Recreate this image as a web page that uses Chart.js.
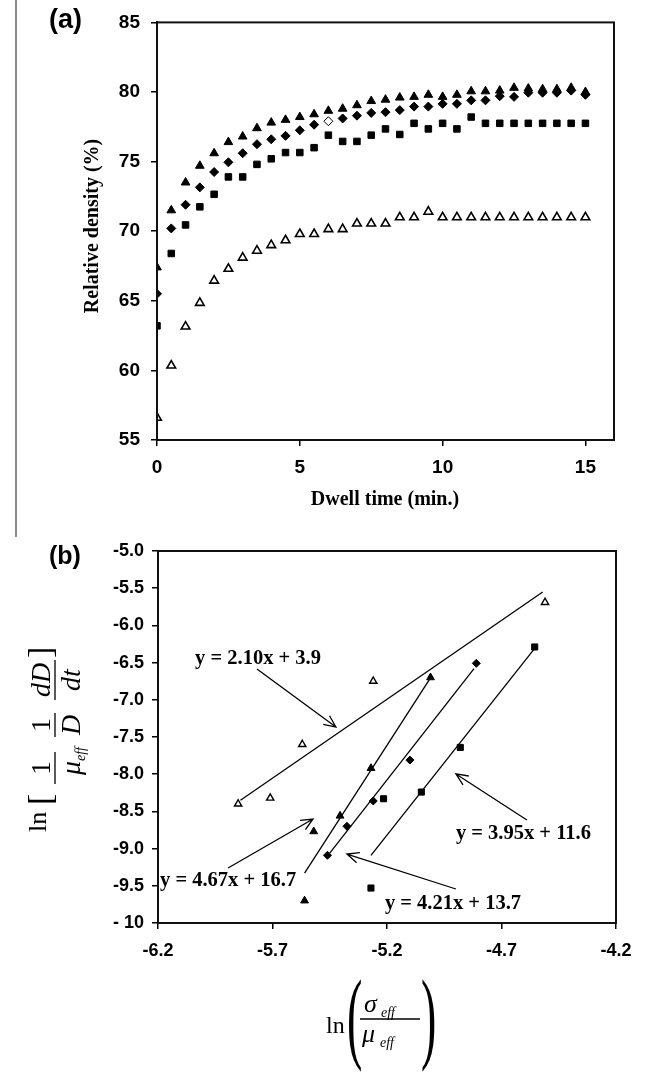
<!DOCTYPE html>
<html>
<head>
<meta charset="utf-8">
<script src="https://cdn.jsdelivr.net/npm/chart.js@4.4.0/dist/chart.umd.min.js"></script>
<style>
  body { margin: 0; background: #fff; }
  #wrap { position: relative; width: 654px; height: 1076px; overflow: hidden; }
  #ca { position: absolute; left: 0; top: 0; }
  #cb { position: absolute; left: 0; top: 520px; }
  #rule { position: absolute; left: 15px; top: 0; width: 2px; height: 537px; background: #8c8c8c; }
</style>
</head>
<body>
<div id="wrap">
  <div id="rule"></div>
  <canvas id="ca" width="654" height="520"></canvas>
  <canvas id="cb" width="654" height="556"></canvas>
</div>
<script>
// ---- panel (a): relative density vs dwell time ----
var dwellTime = [0, 0.5, 1, 1.5, 2, 2.5, 3, 3.5, 4, 4.5, 5, 5.5, 6, 6.5, 7, 7.5,
  8, 8.5, 9, 9.5, 10, 10.5, 11, 11.5, 12, 12.5, 13, 13.5, 14, 14.5, 15];
var densTriFilled = [67.4, 71.5, 73.5, 74.7, 75.6, 76.4, 76.8, 77.4, 77.8, 78.0, 78.2, 78.4, 78.65, 78.8, 79.05, 79.35,
  79.45, 79.6, 79.65, 79.8, 79.65, 79.8, 80.05, 80.05, 80.1, 80.3, 80.25, 80.2, 80.2, 80.3, 80.0];
var densDiamond = [65.5, 70.2, 71.9, 73.15, 74.25, 74.95, 75.6, 76.25, 76.6, 76.85, 77.25, 77.65, 77.9, 78.1, 78.3, 78.5,
  78.55, 78.7, 78.95, 78.95, 79.15, 79.15, 79.4, 79.4, 79.7, 79.65, 79.95, 79.95, 79.95, 80.1, 79.8];
var densSquare = [63.2, 68.4, 70.45, 71.75, 72.65, 73.9, 73.9, 74.8, 75.2, 75.65, 75.65, 76.0, 76.9, 76.45, 76.45, 76.9,
  77.35, 76.95, 77.75, 77.35, 77.75, 77.35, 78.2, 77.75, 77.75, 77.75, 77.75, 77.75, 77.75, 77.75, 77.75];
var densTriOpen = [56.6, 60.35, 63.15, 64.85, 66.45, 67.3, 68.1, 68.6, 69.0, 69.35, 69.8, 69.8, 70.15, 70.15, 70.55, 70.55,
  70.55, 71.0, 71.0, 71.4, 71.0, 71.0, 71.0, 71.0, 71.0, 71.0, 71.0, 71.0, 71.0, 71.0, 71.0];
var densTicksX = [0, 5, 10, 15];

// ---- panel (b): ln rate vs ln(sigma/mu) ----
var lnStressOpenTri = [-5.85, -5.71, -5.57, -5.26, -4.51];
var lnRateOpenTri = [-8.40, -8.32, -7.60, -6.75, -5.69];
var lnStressTri = [-5.56, -5.52, -5.405, -5.27, -5.01];
var lnRateTri = [-9.70, -8.77, -8.56, -7.92, -6.70];
var lnStressDia = [-5.46, -5.375, -5.26, -5.10, -4.81];
var lnRateDia = [-9.09, -8.70, -8.36, -7.81, -6.51];
var lnStressSq = [-5.27, -5.215, -5.05, -4.88, -4.555];
var lnRateSq = [-9.53, -8.33, -8.24, -7.64, -6.29];

// fitted lines, end points
var fitOpenTriX = [-5.84, -4.52], fitOpenTriY = [-8.35, -5.55];
var fitTriX = [-5.56, -5.015], fitTriY = [-9.33, -6.73];
var fitDiaX = [-5.45, -4.82], fitDiaY = [-9.06, -6.58];
var fitSqX = [-5.27, -4.555], fitSqY = [-9.09, -6.31];

var fitLabels = ["y = 2.10x + 3.9", "y = 4.67x + 16.7", "y = 3.95x + 11.6", "y = 4.21x + 13.7"];

function pts(xs, ys) {
  return xs.map(function (x, i) { return { x: x, y: ys[i] }; });
}

var BLACK = "#000";
var tickFontA = { family: "'Liberation Sans', Arial, sans-serif", size: 19, weight: "bold" };
var tickFontB = { family: "'Liberation Sans', Arial, sans-serif", size: 18, weight: "bold" };
var serif = "'Liberation Serif', 'Times New Roman', serif";

function axisCommon(font, pad) {
  return {
    type: "linear",
    grid: { drawOnChartArea: false, color: BLACK, tickLength: 6, lineWidth: 1.5 },
    border: { color: BLACK, width: 2 },
    ticks: { color: BLACK, font: font, padding: pad, includeBounds: false }
  };
}

const frame = {
  id: "frame",
  afterDatasetsDraw(chart) {
    const a = chart.chartArea, c = chart.ctx;
    c.save();
    c.strokeStyle = "#111";
    c.lineWidth = 2;
    c.strokeRect(a.left, a.top, a.right - a.left, a.bottom - a.top);
    c.restore();
  }
};

// ---------- chart (a) ----------
const titlesA = {
  id: "titlesA",
  afterDraw(chart) {
    const c = chart.ctx;
    c.save();
    c.fillStyle = BLACK;
    c.font = "bold 27px 'Liberation Sans', Arial, sans-serif";
    c.textAlign = "left";
    c.textBaseline = "alphabetic";
    c.fillText("(a)", 49, 28);

    c.font = "bold 20px " + serif;
    c.textAlign = "center";
    c.fillText("Dwell time (min.)", 385, 505);

    c.translate(98, 226);
    c.rotate(-Math.PI / 2);
    c.fillText("Relative density (%)", 0, 0);
    c.restore();
  }
};

var xA = axisCommon(tickFontA, 10);
xA.min = 0; xA.max = 16;
xA.afterBuildTicks = function (s) { s.ticks = densTicksX.map(function (v) { return { value: v }; }); };
xA.afterFit = function (s) { s.height = 80; };
var yA = axisCommon(tickFontA, 11);
yA.min = 55; yA.max = 85; yA.ticks.stepSize = 5;
yA.afterFit = function (s) { s.width = 157; };

new Chart(document.getElementById("ca"), {
  type: "scatter",
  data: {
    datasets: [
      { label: "filled triangle", data: pts(dwellTime, densTriFilled), pointStyle: "triangle",
        pointRadius: 5, backgroundColor: BLACK, borderColor: BLACK, borderWidth: 1 },
      { label: "diamond", data: pts(dwellTime, densDiamond), pointStyle: "rectRot",
        pointRadius: 4.5, borderColor: BLACK, borderWidth: 1,
        backgroundColor: function (ctx) { return ctx.dataIndex === 12 ? "#fff" : BLACK; } },
      { label: "square", data: pts(dwellTime, densSquare), pointStyle: "rect",
        pointRadius: 4.6, backgroundColor: BLACK, borderColor: BLACK, borderWidth: 1 },
      { label: "open triangle", data: pts(dwellTime, densTriOpen), pointStyle: "triangle",
        pointRadius: 5, backgroundColor: "#fff", borderColor: BLACK, borderWidth: 1.6 }
    ]
  },
  options: {
    responsive: false,
    animation: false,
    layout: { padding: { top: 13, right: 40, left: 0, bottom: 0 } },
    plugins: { legend: { display: false }, tooltip: { enabled: false } },
    scales: { x: xA, y: yA }
  },
  plugins: [frame, titlesA]
});

// ---------- chart (b) ----------
// annotation boxes in data units: label anchor and arrow from / to
var fitNotes = [
  { text: fitLabels[0], at: [-6.038, -6.452], from: [-5.768, -6.586], to: [-5.423, -7.366] },
  { text: fitLabels[1], at: [-6.191, -9.435], from: [-5.894, -9.261], to: [-5.523, -8.602] },
  { text: fitLabels[2], at: [-4.899, -8.804], from: [-4.589, -8.616], to: [-4.899, -7.997] },
  { text: fitLabels[3], at: [-5.209, -9.745], from: [-4.899, -9.543], to: [-5.375, -9.073] }
];

function arrow(c, x0, y0, x1, y1) {
  var ang = Math.atan2(y1 - y0, x1 - x0), len = 13, spread = 0.42;
  c.beginPath();
  c.moveTo(x0, y0);
  c.lineTo(x1, y1);
  c.moveTo(x1 - len * Math.cos(ang - spread), y1 - len * Math.sin(ang - spread));
  c.lineTo(x1, y1);
  c.lineTo(x1 - len * Math.cos(ang + spread), y1 - len * Math.sin(ang + spread));
  c.stroke();
}

function fracH(c, num, den, u, bar, font, numFont) {
  // horizontal fraction centred on u, bar half-length `bar`
  c.font = numFont || font;
  c.textAlign = "center";
  c.fillText(num, u, -5);
  c.font = font;
  c.fillText(den, u, 25);
  c.beginPath();
  c.moveTo(u - bar, 0);
  c.lineTo(u + bar, 0);
  c.stroke();
}

function tallParen(c, ch, x, y) {
  c.save();
  c.font = "46px " + serif;
  c.translate(x, y);
  c.scale(1, 2.2);
  c.fillText(ch, 0, 0);
  c.restore();
}

const notesB = {
  id: "notesB",
  afterDraw(chart) {
    const c = chart.ctx, xs = chart.scales.x, ys = chart.scales.y;
    c.save();
    c.fillStyle = BLACK;
    c.strokeStyle = BLACK;
    c.lineWidth = 1.3;
    c.font = "bold 20.5px " + serif;
    c.textBaseline = "middle";
    c.textAlign = "left";
    fitNotes.forEach(function (n) {
      c.fillText(n.text, xs.getPixelForValue(n.at[0]), ys.getPixelForValue(n.at[1]));
      arrow(c, xs.getPixelForValue(n.from[0]), ys.getPixelForValue(n.from[1]),
        xs.getPixelForValue(n.to[0]), ys.getPixelForValue(n.to[1]));
    });

    // panel tag
    c.textBaseline = "alphabetic";
    c.font = "bold 25px 'Liberation Sans', Arial, sans-serif";
    c.fillText("(b)", 49, 44);

    // x axis title: ln( sigma_eff / mu_eff )
    c.font = "24px " + serif;
    c.fillText("ln", 326, 513);
    tallParen(c, "(", 347, 530);
    tallParen(c, ")", 421, 530);
    c.font = "italic 26px " + serif;
    c.fillText("\u03c3", 364, 492);
    c.fillText("\u03bc", 362, 522);
    c.font = "italic 14px " + serif;
    c.fillText("eff", 381, 497);
    c.fillText("eff", 380, 527);
    c.beginPath();
    c.moveTo(360, 499);
    c.lineTo(420, 499);
    c.stroke();

    // y axis title, rotated: ln [ 1/mu_eff  1/D  dD/dt ]
    c.translate(55, 312);
    c.rotate(-Math.PI / 2);
    c.textAlign = "left";
    c.font = "26px " + serif;
    c.fillText("ln", 0, -9);
    c.font = "34px " + serif;
    c.fillText("[", 27, -4);
    c.fillText("]", 174, -4);
    fracH(c, "1", "\u03bc", 64, 16, "italic 28px " + serif, "28px " + serif);
    c.font = "italic 14px " + serif;
    c.textAlign = "left";
    c.fillText("eff", 71, 30);
    fracH(c, "1", "D", 107, 12, "italic 28px " + serif, "28px " + serif);
    fracH(c, "dD", "dt", 152, 20, "italic 28px " + serif);
    c.restore();
  }
};

var xB = axisCommon(tickFontB, 11);
xB.min = -6.2; xB.max = -4.2; xB.ticks.stepSize = 0.5;
xB.ticks.callback = function (v) { return v.toFixed(1); };
xB.afterFit = function (s) { s.height = 153; };
var yB = axisCommon(tickFontB, 8);
yB.min = -10; yB.max = -5; yB.ticks.stepSize = 0.5;
yB.ticks.callback = function (v) { return v <= -9.99 ? "- 10" : v.toFixed(1); };
yB.afterFit = function (s) { s.width = 158; };

function fitLine(xs, ys) {
  return { data: pts(xs, ys), showLine: true, pointRadius: 0, borderColor: BLACK, borderWidth: 1.3 };
}

new Chart(document.getElementById("cb"), {
  type: "scatter",
  data: {
    datasets: [
      fitLine(fitOpenTriX, fitOpenTriY),
      fitLine(fitTriX, fitTriY),
      fitLine(fitDiaX, fitDiaY),
      fitLine(fitSqX, fitSqY),
      { data: pts(lnStressOpenTri, lnRateOpenTri), pointStyle: "triangle", pointRadius: 4.2,
        backgroundColor: "#fff", borderColor: BLACK, borderWidth: 1.4 },
      { data: pts(lnStressTri, lnRateTri), pointStyle: "triangle", pointRadius: 4.5,
        backgroundColor: BLACK, borderColor: BLACK, borderWidth: 1 },
      { data: pts(lnStressDia, lnRateDia), pointStyle: "rectRot", pointRadius: 4,
        backgroundColor: BLACK, borderColor: BLACK, borderWidth: 1 },
      { data: pts(lnStressSq, lnRateSq), pointStyle: "rect", pointRadius: 4.3,
        backgroundColor: BLACK, borderColor: BLACK, borderWidth: 1 }
    ]
  },
  options: {
    responsive: false,
    animation: false,
    layout: { padding: { top: 31, right: 38, left: 0, bottom: 0 } },
    plugins: { legend: { display: false }, tooltip: { enabled: false } },
    scales: { x: xB, y: yB }
  },
  plugins: [frame, notesB]
});
</script>
</body>
</html>
